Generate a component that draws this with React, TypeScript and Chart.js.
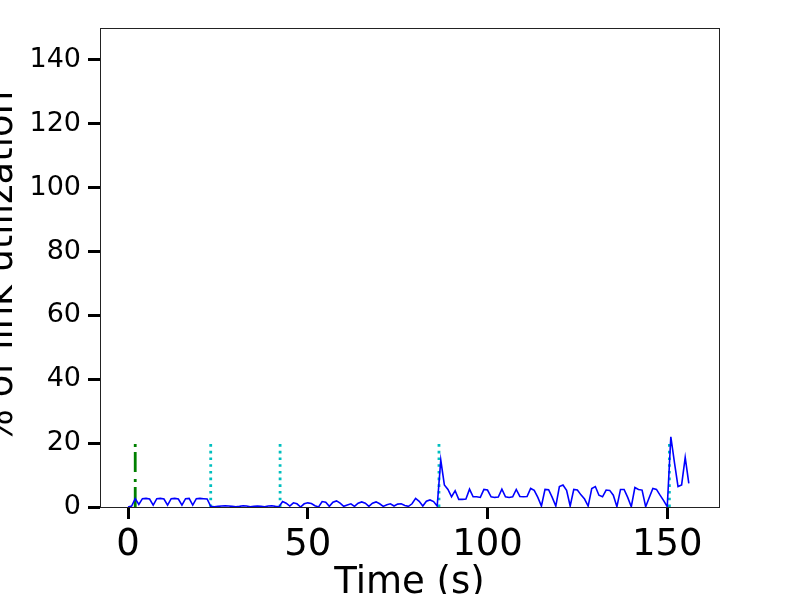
import React, { useEffect, useRef } from "react";
import { Chart, registerables } from "chart.js";

Chart.register(...registerables);

// Link utilization (%) sampled once per second, t = 0..156
const utilization: number[] = [
  0, 0.3, 2.6, 0.8, 2.6, 2.7, 2.5, 0.6, 2.6, 2.7,
  2.5, 0.6, 2.6, 2.7, 2.5, 0.6, 2.6, 2.7, 0.6, 2.6,
  2.7, 2.6, 2.5, 0.2, 0.1, 0.2, 0.3, 0.4, 0.3, 0.2,
  0.1, 0.2, 0.4, 0.3, 0.1, 0.2, 0.3, 0.2, 0.1, 0.3,
  0.4, 0.2, 0.1, 1.7, 1.2, 0.3, 1.3, 1.0, 0.0, 1.0,
  1.3, 1.1, 0.4, 0.0, 1.7, 1.5, 0.2, 1.5, 1.9, 1.2,
  0.2, 0.6, 1.0, 0.2, 1.2, 1.6, 1.2, 0.2, 1.2, 1.6,
  1.0, 0.2, 0.7, 1.0, 0.3, 0.9, 1.0, 0.5, 0.2, 1.0,
  2.7, 1.8, 0.3, 1.8, 2.2, 1.7, 0.3, 14.7, 6.9, 5.5,
  3.2, 5.1, 2.4, 2.4, 2.5, 5.6, 3.2, 3.2, 3.0, 5.5,
  5.3, 3.2, 3.0, 3.1, 5.6, 3.2, 3.0, 3.2, 5.5, 3.3,
  3.2, 3.3, 5.8, 5.2, 3.0, 0.3, 5.5, 5.4, 3.0, 0.3,
  6.4, 6.9, 5.2, 0.3, 5.5, 5.3, 3.8, 2.5, 0.3, 5.8,
  6.4, 3.7, 3.2, 5.3, 5.2, 3.7, 0.1, 5.5, 5.5, 3.0,
  0.1, 6.1, 5.5, 5.3, 0.1, 3.0, 5.8, 5.5, 3.7, 2.0,
  0.1, 22.0, 14.0, 6.4, 6.9, 15.5, 7.4,
];
const timeStart = 0;

// Event markers (seconds)
const greenEventTimes: number[] = [2];
const cyanEventTimes: number[] = [23, 42.3, 86.5, 150.6];
const markerTop = 21;

const xTicks: number[] = [0, 50, 100, 150];
const yTicks: number[] = [0, 20, 40, 60, 80, 100, 120, 140];
const xRange: number[] = [-7.8, 164.4];
const yRange: number[] = [0, 150];

const FONT = "'DejaVu Sans', sans-serif";

export default function App() {
  const ref = useRef<HTMLCanvasElement | null>(null);

  useEffect(() => {
    if (!ref.current) return;
    const lineData = utilization.map((v, i) => ({ x: timeStart + i, y: v }));
    const markerSets: any[] = [];
    greenEventTimes.forEach((t) =>
      markerSets.push({
        data: [{ x: t, y: 0 }, { x: t, y: markerTop }],
        borderColor: "#008000",
        borderWidth: 2.8,
        borderDash: [20, 5, 3, 7],
        showLine: true,
        pointRadius: 0,
      })
    );
    cyanEventTimes.forEach((t) =>
      markerSets.push({
        data: [{ x: t, y: 0 }, { x: t, y: markerTop }],
        borderColor: "#00bfbf",
        borderWidth: 2.8,
        borderDash: [2.6, 4.1],
        showLine: true,
        pointRadius: 0,
      })
    );

    const frame = {
      id: "frame",
      afterDatasetsDraw(chart: any) {
        const { ctx, chartArea: a } = chart;
        ctx.save();
        ctx.strokeStyle = "#222";
        ctx.lineWidth = 1;
        ctx.strokeRect(Math.round(a.left) + 0.5, Math.round(a.top) + 0.5, Math.round(a.right - a.left), Math.round(a.bottom - a.top));
        ctx.restore();
      },
    };

    const chart = new Chart(ref.current, {
      type: "scatter",
      data: {
        datasets: [
          {
            data: lineData,
            borderColor: "#0000ff",
            borderWidth: 1.6,
            showLine: true,
            pointRadius: 0,
          },
          ...markerSets,
        ],
      },
      options: {
        animation: false,
        responsive: false,
        devicePixelRatio: 1,
        layout: { padding: { top: 28, right: 77, left: 0, bottom: 0 } },
        plugins: { legend: { display: false }, tooltip: { enabled: false } },
        scales: {
          x: {
            type: "linear",
            min: xRange[0],
            max: xRange[1],
            afterFit: (s: any) => { s.height = 87; },
            afterBuildTicks: (s: any) => { s.ticks = xTicks.map((v) => ({ value: v })); },
            ticks: { font: { family: FONT, size: 37 }, color: "#000", padding: 4, maxRotation: 0, includeBounds: false },
            grid: { drawOnChartArea: false, drawTicks: true, tickLength: 12, tickWidth: 3, tickColor: "#000" },
            border: { display: false },
            title: { display: true, text: "Time (s)", font: { family: FONT, size: 37 }, color: "#000", padding: { top: 0, bottom: -12 } },
          },
          y: {
            type: "linear",
            min: yRange[0],
            max: yRange[1],
            afterFit: (s: any) => { s.width = 100; },
            afterBuildTicks: (s: any) => { s.ticks = yTicks.map((v) => ({ value: v })); },
            ticks: { font: { family: FONT, size: 27 }, color: "#000", padding: 7, includeBounds: false },
            grid: { drawOnChartArea: false, drawTicks: true, tickLength: 12, tickWidth: 3, tickColor: "#000" },
            border: { display: false },
            title: { display: true, text: "% of link utilization", font: { family: FONT, size: 37 }, color: "#000", padding: { top: -20, bottom: 0 } },
          },
        },
      },
      plugins: [frame],
    });
    return () => chart.destroy();
  }, []);

  return (
    <div style={{ position: "absolute", left: 0, top: 0, width: 796, height: 594, background: "#fff" }}>
      <canvas ref={ref} width={796} height={594} style={{ width: 796, height: 594, display: "block" }} />
    </div>
  );
}
